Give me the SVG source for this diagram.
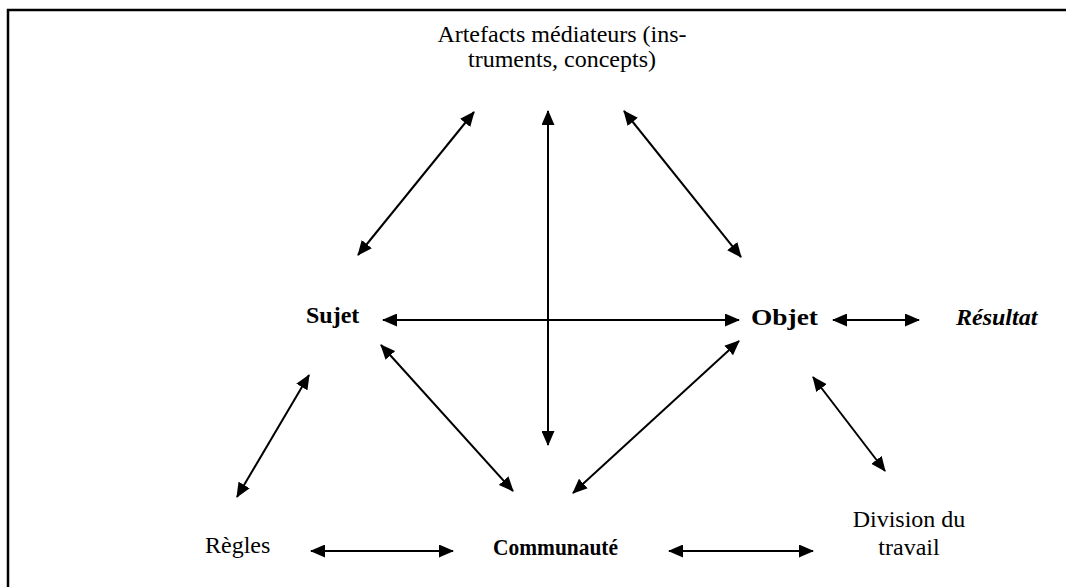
<svg xmlns="http://www.w3.org/2000/svg" width="1066" height="587" viewBox="0 0 1066 587">
<style>
text{font-family:'Liberation Serif','Times New Roman','DejaVu Serif',serif;font-size:24px;fill:#000}
.b{font-weight:bold}
.i{font-style:italic}
.c{stroke:#000;stroke-width:2;fill:none;marker-start:url(#ah);marker-end:url(#ah)}
</style>
<defs>
<marker id="ah" viewBox="0 0 15 13" refX="14" refY="6.5" markerWidth="15" markerHeight="13" markerUnits="userSpaceOnUse" orient="auto-start-reverse">
<path d="M0,0 L15,6.5 L0,13 Z" fill="#000"/>
</marker>
</defs>
<rect x="8" y="10" width="1080" height="600" fill="none" stroke="#000" stroke-width="2.5"/>
<g id="connectors">
<line class="c" x1="474" y1="112" x2="358" y2="255"/>
<line class="c" x1="548" y1="111" x2="548" y2="445"/>
<line class="c" x1="624" y1="111" x2="741" y2="257"/>
<line class="c" x1="383" y1="320" x2="739" y2="320"/>
<line class="c" x1="833" y1="320" x2="919" y2="320"/>
<line class="c" x1="381" y1="345" x2="513" y2="491"/>
<line class="c" x1="739" y1="341" x2="573" y2="493"/>
<line class="c" x1="309" y1="375" x2="237" y2="497"/>
<line class="c" x1="813" y1="377" x2="885" y2="471"/>
<line class="c" x1="311" y1="551" x2="453" y2="551"/>
<line class="c" x1="669" y1="551" x2="813" y2="551"/>
</g>
<g id="artefacts"><text x="562" y="42" text-anchor="middle">Artefacts médiateurs (ins-</text><text x="562" y="67" text-anchor="middle">truments, concepts)</text></g>
<g id="sujet"><text class="b" x="306" y="323">Sujet</text></g>
<g id="objet"><text class="b" x="751" y="325" textLength="67" lengthAdjust="spacingAndGlyphs">Objet</text></g>
<g id="resultat"><text class="b i" x="956" y="325">Résultat</text></g>
<g id="regles"><text x="205" y="553">Règles</text></g>
<g id="communaute"><text class="b" x="493" y="555" textLength="125" lengthAdjust="spacingAndGlyphs">Communauté</text></g>
<g id="division"><text x="909" y="527" text-anchor="middle">Division du</text><text x="909" y="555" text-anchor="middle">travail</text></g>
</svg>
